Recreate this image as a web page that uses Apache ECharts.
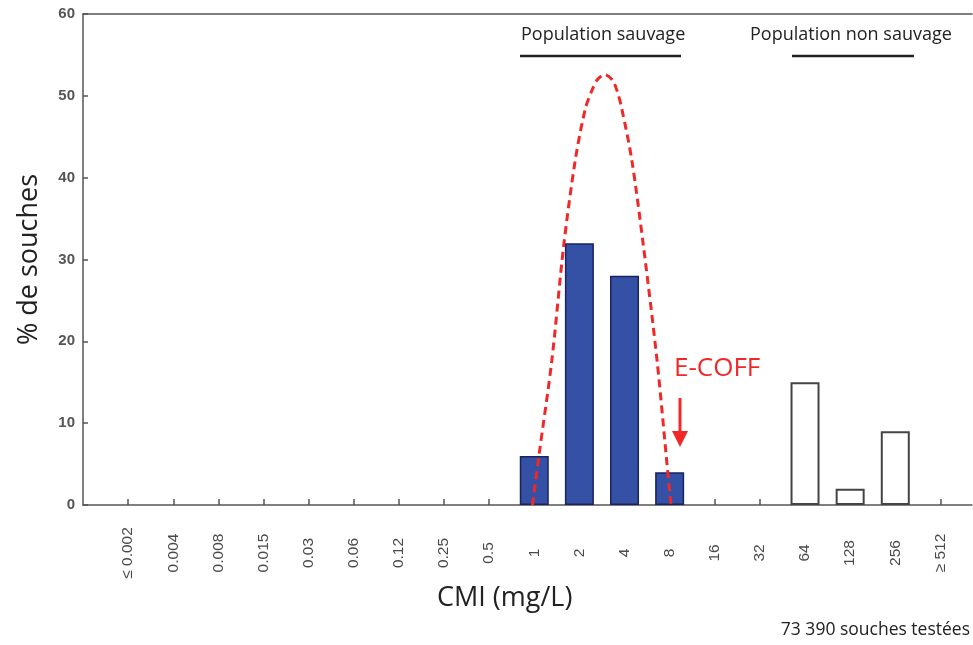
<!DOCTYPE html>
<html>
<head>
<meta charset="utf-8">
<script src="https://cdn.jsdelivr.net/npm/echarts@6/dist/echarts.min.js"></script>
<style>
  html, body { margin: 0; padding: 0; background: #fff; }
  #chart { width: 973px; height: 645px; }
</style>
</head>
<body>
<div id="chart"></div>
<script>
// MIC categories (mg/L)
var categories = ['≤ 0.002', '0.004', '0.008', '0.015', '0.03', '0.06', '0.12', '0.25', '0.5',
                  '1', '2', '4', '8', '16', '32', '64', '128', '256', '≥ 512'];
// % of strains, wild population (blue bars)
var wildPct = [null, null, null, null, null, null, null, null, null,
               6, 32, 28, 4, null, null, null, null, null, null];
// % of strains, non-wild population (white bars)
var nonWildPct = [null, null, null, null, null, null, null, null, null,
                  null, null, null, null, null, null, 15, 2, 9, null];
// Dashed fitted curve (x in category index units, y in %)
var curveX = [8.96, 9.10, 9.39, 9.65, 9.91, 10.13, 10.28, 10.40, 10.56, 10.72, 10.83, 10.94, 11.16, 11.42, 11.72, 11.96, 12.03];
var curveY = [0, 5.9, 17.7, 31.6, 42.2, 48.4, 50.7, 52.0, 52.6, 52.0, 50.7, 48.4, 42.2, 31.6, 17.7, 3.9, 0];
var yTicks = [0, 10, 20, 30, 40, 50, 60];

var catIdx = categories.map(function (c, i) { return i; });
function toPairs(arr) {
  return arr.map(function (v, i) { return v == null ? null : [i, v]; }).filter(function (p) { return p; });
}
var curveData = curveX.map(function (x, i) { return [x, curveY[i]]; });

var chart = echarts.init(document.getElementById('chart'), null, { renderer: 'canvas' });
var option = {
  backgroundColor: '#ffffff',
  animation: false,
  grid: { left: 83, top: 14, right: 1, bottom: 140, containLabel: false },
  xAxis: [{
    type: 'value', min: -1, max: 18.7, interval: 1,
    axisLine: { show: true, onZero: false, lineStyle: { color: '#555', width: 1.5 } },
    axisTick: { show: true, inside: true, length: 6, customValues: catIdx, lineStyle: { color: '#555', width: 1.5 } },
    axisLabel: { customValues: catIdx, rotate: 90, align: 'center', verticalAlign: 'middle', margin: 48,
      color: '#4a4a4a', fontFamily: 'Liberation Sans', fontSize: 15.5,
      formatter: function (v) { return categories[v] !== undefined ? categories[v] : ''; } },
    splitLine: { show: false }
  }, {
    type: 'value', min: -1, max: 18.7, position: 'top',
    axisLine: { show: true, onZero: false, lineStyle: { color: '#555', width: 1.5 } },
    axisTick: { show: false }, axisLabel: { show: false }, splitLine: { show: false }
  }],
  yAxis: {
    type: 'value', min: 0, max: 60, interval: 10,
    name: '% de souches', nameLocation: 'middle', nameGap: 40, nameRotate: 90,
    nameTextStyle: { fontFamily: 'Open Sans', fontSize: 27, color: '#222' },
    axisLine: { show: true, onZero: false, lineStyle: { color: '#555', width: 1.5 } },
    axisTick: { show: true, inside: true, length: 5, lineStyle: { color: '#555', width: 1.5 } },
    axisLabel: { color: '#555', fontWeight: 'bold', fontFamily: 'Liberation Sans', fontSize: 15, margin: 8,
      formatter: function (v) { return yTicks.indexOf(v) >= 0 ? String(v) : ''; } },
    splitLine: { show: false }
  },
  series: [{
    type: 'bar', name: 'Population sauvage', data: toPairs(wildPct), barWidth: 29, barGap: '-100%',
    itemStyle: { color: '#3551a6', borderColor: '#1a2260', borderWidth: 1.5 }, z: 2
  }, {
    type: 'bar', name: 'Population non sauvage', data: toPairs(nonWildPct), barWidth: 29, barGap: '-100%',
    itemStyle: { color: '#ffffff', borderColor: '#444', borderWidth: 2 }, z: 2
  }, {
    type: 'line', data: curveData, smooth: 0.3, symbol: 'none',
    lineStyle: { color: '#f02828', width: 3, type: [8, 5] }, z: 5
  }],
  graphic: [
    { type: 'text', left: 521, top: 26, style: { text: 'Population sauvage', fontFamily: 'Open Sans', fontSize: 18, fill: '#222' } },
    { type: 'line', shape: { x1: 520, y1: 56, x2: 681, y2: 56 }, style: { stroke: '#222', lineWidth: 2.5 } },
    { type: 'text', left: 750, top: 26, style: { text: 'Population non sauvage', fontFamily: 'Open Sans', fontSize: 18, fill: '#222' } },
    { type: 'line', shape: { x1: 792, y1: 56, x2: 914, y2: 56 }, style: { stroke: '#222', lineWidth: 2.5 } },
    { type: 'text', left: 674, top: 356, style: { text: 'E-COFF', fontFamily: 'Open Sans', fontSize: 26, fill: '#f02828' } },
    { type: 'line', shape: { x1: 680, y1: 398, x2: 680, y2: 440 }, style: { stroke: '#f02828', lineWidth: 3 } },
    { type: 'polygon', shape: { points: [[672, 431], [688, 431], [680, 447]] }, style: { fill: '#f02828' } },
    { type: 'text', left: 437, top: 585, style: { text: 'CMI (mg/L)', fontFamily: 'Open Sans', fontSize: 27, fill: '#222' } },
    { type: 'text', right: 3, top: 621, style: { text: '73 390 souches testées', fontFamily: 'Open Sans', fontSize: 17.5, fill: '#222' } }
  ]
};
chart.setOption(option);
</script>
</body>
</html>
